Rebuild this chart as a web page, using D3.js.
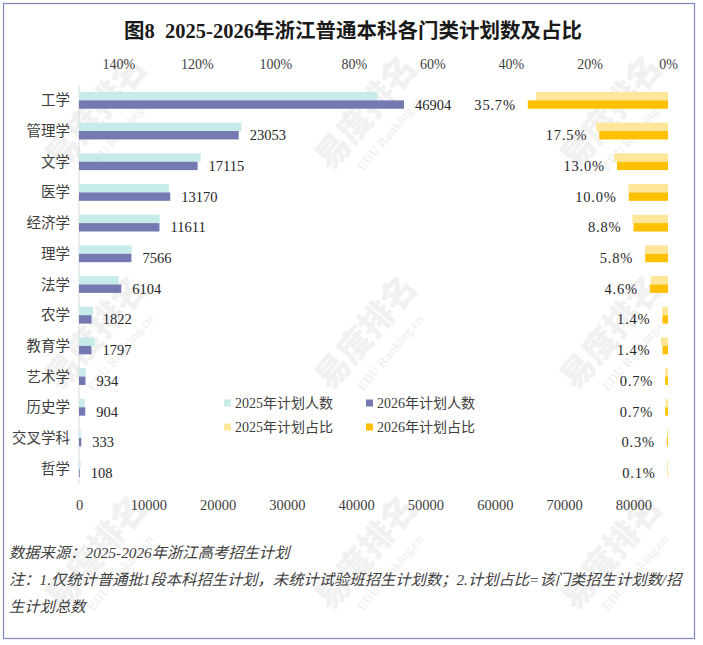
<!DOCTYPE html>
<html>
<head>
<meta charset="utf-8">
<script src="https://cdn.jsdelivr.net/npm/d3@7"></script>
<style>
  body{margin:0;background:#fff;}
  svg{display:block;}
  .num{font-family:"Liberation Serif","Noto Sans CJK SC",serif;}
  .cjk{font-family:"Liberation Serif","Noto Sans CJK SC",sans-serif;}
</style>
</head>
<body>
<div id="chart"></div>
<script>
// data
const categories=['工学','管理学','文学','医学','经济学','理学','法学','农学','教育学','艺术学','历史学','交叉学科','哲学'];
const plan2025=[43060,23440,17560,12950,11650,7600,5730,2020,2270,960,820,250,230];
const plan2026=[46904,23053,17115,13170,11611,7566,6104,1822,1797,934,904,333,108];
const share2025=[33.6,18.3,13.7,10.1,9.1,5.9,4.4,1.5,1.8,0.75,0.6,0.25,0.2];
const share2026=[35.7,17.5,13.0,10.0,8.8,5.8,4.6,1.4,1.4,0.7,0.7,0.3,0.1];
const countTicks=[0,10000,20000,30000,40000,50000,60000,70000,80000];
const shareTicks=[0,20,40,60,80,100,120,140];
const legendNames=['2025年计划人数','2026年计划人数','2025年计划占比','2026年计划占比'];

const colors={c25:'#c6ebe9',c26:'#7479b1',s25:'#ffe699',s26:'#ffc000'};
const W=703,H=645;
const plotL=79,plotR=668,plotT=85,plotB=484;

const svg=d3.select('#chart').append('svg').attr('width',W).attr('height',H);

// watermark, kept inside the frame
let wm=svg.append('g').attr('fill','#f1f1f1').attr('font-family','"Noto Sans CJK SC",sans-serif');
const wmSpots=[[105,120],[375,120],[620,120],[105,340],[375,340],[620,340],[105,560],[375,560],[620,560]];
wmSpots.forEach(function(p){
  let g=wm.append('g').attr('transform',`translate(${p[0]},${p[1]}) rotate(-50)`);
  g.append('text').attr('font-size',34).attr('font-weight',900).attr('text-anchor','middle').text('易度排名');
  g.append('text').attr('y',24).attr('font-size',13).attr('font-weight',700).attr('text-anchor','middle')
    .attr('font-family','"Liberation Serif",serif').text('EDU Ranking.cn');
});

// border
svg.append('rect').attr('x',3.5).attr('y',3.5).attr('width',691).attr('height',635)
  .attr('fill','none').attr('stroke','#8088c0').attr('stroke-width',1.2);

// title
svg.append('text').attr('class','cjk').attr('x',353).attr('y',38).attr('text-anchor','middle')
  .attr('font-size',20.5).attr('font-weight','bold').attr('fill','#1a1a1a')
  .style('white-space','pre')
  .text('图8  2025-2026年浙江普通本科各门类计划数及占比');

const xCount=d3.scaleLinear().domain([0,85000]).range([plotL,plotR]);
const xShare=d3.scaleLinear().domain([0,150]).range([plotR,plotL]);
const y=d3.scaleBand().domain(categories).range([plotT,plotB]);
const bh=8.4;

// axes
let axT=svg.append('g').attr('transform',`translate(0,${plotT-18})`)
  .call(d3.axisTop(xShare).tickValues(shareTicks).tickSize(0).tickFormat(d=>d+'%'));
axT.select('.domain').remove();
axT.selectAll('text').attr('class','num').attr('font-size',14).attr('fill','#404040').attr('dy','0.35em');

let axB=svg.append('g').attr('transform',`translate(0,${plotB+13})`)
  .call(d3.axisBottom(xCount).tickValues(countTicks).tickSize(0).tickFormat(d3.format('d')));
axB.select('.domain').remove();
axB.selectAll('text').attr('class','num').attr('font-size',14.5).attr('fill','#404040');

svg.append('line').attr('x1',plotL).attr('x2',plotL).attr('y1',plotT).attr('y2',plotB)
  .attr('stroke','#d9d9d9');

// category labels
svg.append('g').selectAll('text').data(categories).enter().append('text')
  .attr('class','cjk').attr('x',plotL-9).attr('y',d=>y(d)+y.bandwidth()/2)
  .attr('text-anchor','end').attr('dy','0.35em').attr('font-size',14.5).attr('fill','#404040')
  .text(d=>d);

// count bars
let rows=categories.map(function(c,i){
  return {c:c,p25:plan2025[i],p26:plan2026[i],s25:share2025[i],s26:share2026[i]};
});
let mid=d=>y(d.c)+y.bandwidth()/2;

svg.append('g').selectAll('rect').data(rows).enter().append('rect')
  .attr('x',xCount(0)).attr('y',d=>mid(d)-bh).attr('height',bh)
  .attr('width',d=>xCount(d.p25)-xCount(0)).attr('fill',colors.c25);
svg.append('g').selectAll('rect').data(rows).enter().append('rect')
  .attr('x',xCount(0)).attr('y',d=>mid(d)).attr('height',bh)
  .attr('width',d=>xCount(d.p26)-xCount(0)).attr('fill',colors.c26);

// share bars (reversed axis, grow leftwards from 0%)
svg.append('g').selectAll('rect').data(rows).enter().append('rect')
  .attr('x',d=>xShare(d.s25)).attr('y',d=>mid(d)-bh).attr('height',bh)
  .attr('width',d=>xShare(0)-xShare(d.s25)).attr('fill',colors.s25);
svg.append('g').selectAll('rect').data(rows).enter().append('rect')
  .attr('x',d=>xShare(d.s26)).attr('y',d=>mid(d)).attr('height',bh)
  .attr('width',d=>xShare(0)-xShare(d.s26)).attr('fill',colors.s26);

// labels
svg.append('g').selectAll('text').data(rows).enter().append('text')
  .attr('class','num').attr('x',d=>xCount(d.p26)+11).attr('y',d=>mid(d)+bh/2)
  .attr('dy','0.35em').attr('font-size',14.5).attr('fill','#262626')
  .text(d=>d.p26);
svg.append('g').selectAll('text').data(rows).enter().append('text')
  .attr('class','num').attr('x',d=>xShare(d.s26)-12).attr('y',d=>mid(d)+bh/2)
  .attr('dy','0.35em').attr('text-anchor','end').attr('font-size',14.5)
  .attr('letter-spacing','0.8px').attr('fill','#262626')
  .text(d=>d.s26.toFixed(1)+'%');

// legend
const legCol=[224,366],legRow=[403,427];
let leg=svg.append('g');
legendNames.forEach(function(n,i){
  let lx=legCol[i%2],ly=legRow[Math.floor(i/2)];
  leg.append('rect').attr('x',lx).attr('y',ly-3.5).attr('width',7).attr('height',7)
    .attr('fill',[colors.c25,colors.c26,colors.s25,colors.s26][i]);
  leg.append('text').attr('class','cjk').attr('x',lx+11).attr('y',ly).attr('dy','0.35em')
    .attr('font-size',14).attr('fill','#404040').text(n);
});

// notes
const notes=['数据来源：2025-2026年浙江高考招生计划',
  '注：1.仅统计普通批1段本科招生计划，未统计试验班招生计划数；2.计划占比=该门类招生计划数/招',
  '生计划总数'];
svg.append('g').selectAll('text').data(notes).enter().append('text')
  .attr('class','cjk').attr('x',9).attr('y',(d,i)=>558+i*27)
  .attr('font-size',15.3).attr('font-style','italic').attr('fill','#404040')
  .text(d=>d);
</script>
</body>
</html>
